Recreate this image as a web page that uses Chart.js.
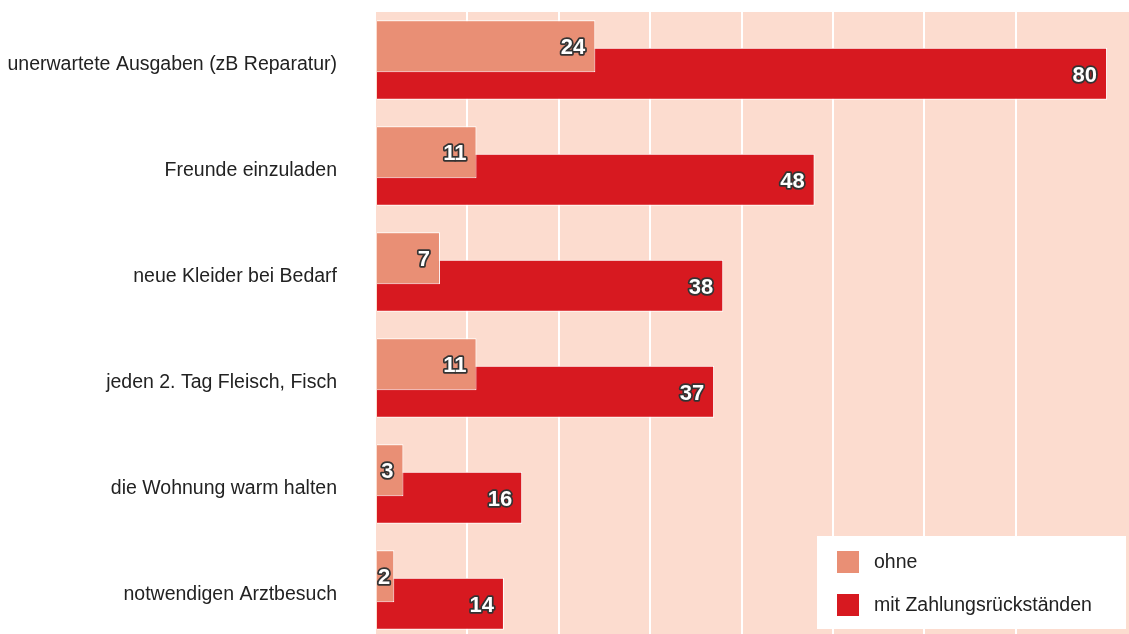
<!DOCTYPE html>
<html lang="de">
<head>
<meta charset="utf-8">
<title>Ausgaben</title>
<script src="https://cdn.jsdelivr.net/npm/chart.js@4.4.0/dist/chart.umd.min.js"></script>
<style>
  html, body { margin: 0; padding: 0; background: #fff; overflow: hidden; }
  .base-graf { position: relative; width: 1129px; height: 643px; }
</style>
</head>
<body>
<div class="base-graf"><canvas id="graficaAusgaben"></canvas></div>
<script>
/* DATOS */
const categorias = [
  'unerwartete Ausgaben (zB Reparatur)',
  'Freunde einzuladen',
  'neue Kleider bei Bedarf',
  'jeden 2. Tag Fleisch, Fisch',
  'die Wohnung warm halten',
  'notwendigen Arztbesuch'
];
const valoresOhne = [24, 11, 7, 11, 3, 2];
const valoresMit = [80, 48, 38, 37, 16, 14];
const nombresSeries = ['ohne', 'mit Zahlungsrückständen'];
const ejeMin = 0;
const ejeMax = 82.4;
const pasoEje = 10;

const colores = ['#e98f75', '#d71920'];
const fuente = '"Liberation Sans", Arial, Helvetica, sans-serif';

/* fondo durazno del area */
const fondoPlugin = {
  id: 'fondo',
  beforeDraw(chart) {
    const { ctx, chartArea } = chart;
    ctx.save();
    ctx.fillStyle = '#fcdccf';
    ctx.fillRect(chartArea.left, 12, chartArea.right - chartArea.left, chartArea.bottom - 12);
    ctx.restore();
  }
};

/* numeros blancos con contorno */
const etiquetasPlugin = {
  id: 'etiquetas',
  afterDatasetsDraw(chart) {
    const ctx = chart.ctx;
    ctx.save();
    ctx.font = 'bold 22px ' + fuente;
    ctx.textAlign = 'right';
    ctx.textBaseline = 'middle';
    ctx.lineJoin = 'round';
    // dataset 1 primero, asi el 0 queda encima como las barras
    for (let d = chart.data.datasets.length - 1; d >= 0; d--) {
      const meta = chart.getDatasetMeta(d);
      meta.data.forEach((barra, i) => {
        const txt = String(chart.data.datasets[d].data[i]);
        const ancho = ctx.measureText(txt).width;
        const x = Math.max(barra.x - 10, barra.base + ancho + 1);
        const y = barra.y + 2;
        ctx.lineWidth = 3.5;
        ctx.strokeStyle = '#333';
        ctx.strokeText(txt, x, y);
        ctx.fillStyle = '#fff';
        ctx.fillText(txt, x, y);
      });
    }
    ctx.restore();
  }
};

/* leyenda en caja blanca */
const leyendaPlugin = {
  id: 'leyendaCaja',
  afterDraw(chart) {
    const ctx = chart.ctx;
    ctx.save();
    ctx.fillStyle = '#fff';
    ctx.fillRect(817, 536, 309, 93);
    ctx.font = '19.5px ' + fuente;
    ctx.textBaseline = 'middle';
    ctx.textAlign = 'left';
    chart.data.datasets.forEach((ds, i) => {
      const y = 551 + i * 43;
      ctx.fillStyle = ds.backgroundColor;
      ctx.fillRect(837, y, 22, 22);
      ctx.fillStyle = '#222';
      ctx.fillText(ds.label, 874, y + 12);
    });
    ctx.restore();
  }
};

const grafica = document.getElementById('graficaAusgaben').getContext('2d');

new Chart(grafica, {
  type: 'bar',
  data: {
    labels: categorias,
    datasets: [
      {
        label: nombresSeries[0],
        data: valoresOhne,
        backgroundColor: colores[0],
        borderColor: '#ffffff',
        borderWidth: 1
      },
      {
        label: nombresSeries[1],
        data: valoresMit,
        backgroundColor: colores[1],
        borderColor: '#ffffff',
        borderWidth: 1
      }
    ]
  },
  options: {
    indexAxis: 'y',
    responsive: true,
    maintainAspectRatio: false,
    animation: false,
    categoryPercentage: 0.519,
    barPercentage: 1.89,
    layout: { padding: { top: 7, right: 0, bottom: 0, left: 0 } },
    plugins: {
      legend: { display: false },
      tooltip: { enabled: false }
    },
    scales: {
      x: {
        min: ejeMin,
        max: ejeMax,
        ticks: { display: false, stepSize: pasoEje },
        border: { display: false },
        grid: {
          drawTicks: false,
          lineWidth: 2,
          color: (c) => (c.tick && c.tick.value > 0 && c.tick.value % pasoEje === 0) ? '#ffffff' : 'rgba(0,0,0,0)'
        },
        afterFit: (scale) => {
          scale.height = 0;
          scale.paddingLeft = 0;
          scale.paddingRight = 0;
        }
      },
      y: {
        afterFit: (scale) => {
          scale.width = 376;
          scale.paddingTop = 0;
          scale.paddingBottom = 0;
        },
        border: { display: false },
        grid: { display: false },
        ticks: {
          color: '#222',
          padding: 31,
          labelOffset: 5,
          autoSkip: false,
          font: { size: 19.5, family: fuente }
        }
      }
    }
  },
  plugins: [fondoPlugin, etiquetasPlugin, leyendaPlugin]
});
</script>
</body>
</html>
